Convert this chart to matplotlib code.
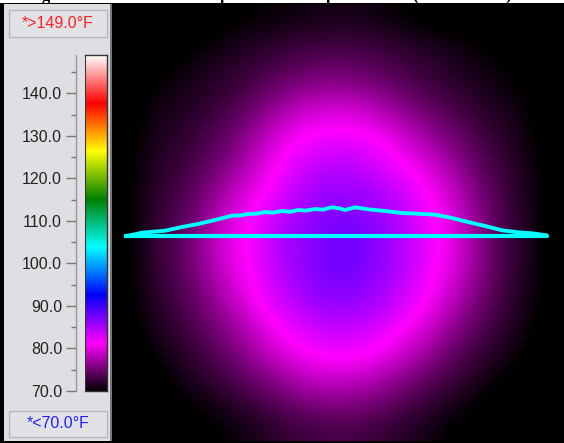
import matplotlib
matplotlib.use("Agg")
import matplotlib.pyplot as plt
import numpy as np
from matplotlib.colors import LinearSegmentedColormap
from matplotlib.patches import Rectangle
from matplotlib.ticker import MultipleLocator

plt.rcParams['font.family'] = ['Liberation Sans', 'DejaVu Sans']

W, H = 564, 443

# scale of the thermogram
t_min = 70.0
t_max = 149.0
scale_ticks = [70, 80, 90, 100, 110, 120, 130, 140]
scale_colors = ['#000000', '#ff00ff', '#0000ff', '#00ffff', '#008000', '#ffff00', '#ff0000', '#ffffff']
high_label = '*>149.0°F'
low_label = '*<70.0°F'

# temperatures, coarse grid, row by row from the top
temps = np.array([
    [69, 69, 69, 69, 69.5, 70, 70.4, 70.7, 71, 71, 70.7, 70.2, 69.5, 69, 69, 69, 69, 69],
    [69, 69, 69, 70, 70.8, 71.3, 71.8, 72.2, 72.5, 72.5, 72.2, 71.7, 71.2, 70.7, 70.2, 69, 69, 69],
    [69, 69, 70.3, 70.9, 71.6, 72.3, 73.2, 74, 74.4, 74.4, 73.8, 73, 72.2, 71.5, 70.9, 70.3, 69, 69],
    [69, 70.2, 70.9, 71.5, 72.3, 73.4, 75, 76.2, 76.8, 76.6, 75.6, 74.5, 73.2, 72.3, 71.5, 70.8, 70, 69],
    [69, 70.8, 71.3, 72.2, 73.3, 75, 77.2, 79.2, 80, 80, 78.8, 76.8, 75.2, 73.6, 72.4, 71.4, 70.6, 69],
    [69.5, 71.1, 71.8, 73, 74.4, 76.8, 79.7, 81.3, 82, 82, 81.4, 79.7, 77.2, 75.3, 73.4, 71.9, 70.9, 69],
    [69.5, 71.4, 72.3, 73.6, 75.6, 78.3, 81, 83, 84, 84, 83, 81.3, 79.7, 77, 74.4, 72.5, 71.1, 69.3],
    [69.5, 71.6, 72.8, 74.6, 77.2, 79.8, 81.8, 84.3, 85.5, 85.5, 84.8, 83, 81.4, 78.7, 75.4, 73, 71.3, 69.5],
    [69.5, 71.8, 73.3, 75.6, 78.8, 81.1, 83.5, 85.5, 86.6, 86.8, 86, 84.3, 82, 80, 76.4, 73.3, 71.4, 69.6],
    [69.5, 71.9, 73.7, 76.3, 80, 81.6, 84.5, 86, 87.3, 87.7, 86.5, 84.8, 82.3, 80.4, 76.7, 73.4, 71.4, 69.6],
    [69.5, 71.9, 73.7, 76.3, 79.8, 81.6, 84.5, 86, 87.5, 88, 86.5, 84.8, 82.3, 80.4, 76.7, 73.4, 71.4, 69.6],
    [69.5, 71.7, 73.3, 75.7, 78.8, 81.3, 83.8, 85.8, 87, 87, 86, 84.3, 81.9, 79.7, 76.2, 73.2, 71.3, 69.5],
    [69.5, 71.3, 72.8, 74.8, 77.3, 80.2, 82.5, 84.5, 85.8, 85.8, 85, 83, 81.2, 78, 75.2, 72.7, 71, 69.3],
    [69.3, 70.8, 72.2, 73.7, 75.9, 78.3, 81, 82.5, 83.5, 83.5, 82.7, 81.2, 79.2, 76.3, 73.9, 72, 70.7, 69],
    [69, 70, 71.4, 72.7, 74.4, 76.6, 79, 80.8, 81.7, 81.7, 81, 79.2, 76.8, 74.3, 72.6, 71.2, 70, 69],
    [69, 69, 70.8, 71.6, 73, 74.5, 76.2, 78, 78.8, 78.6, 77.7, 76, 74.2, 72.8, 71.3, 70.3, 69, 69],
    [69, 69, 69.5, 70.6, 71.4, 72.5, 73.8, 75, 75.8, 75.7, 75, 73.8, 72.4, 71.2, 70.3, 69, 69, 69],
    [69, 69, 69, 69.5, 70.3, 71, 72, 72.7, 73.2, 73.2, 72.7, 71.8, 71, 70, 69, 69, 69, 69],
])

# line profile across the image (image pixels)
line_x = [126, 547]
line_y = [236, 236]
profile_x = [126, 134, 142, 165, 182, 198, 215, 232, 240, 248, 257, 265, 273, 282, 290, 298,
             306, 315, 323, 332, 340, 345, 355, 368, 385, 402, 418, 435, 452, 468, 485, 502,
             518, 532, 546]
profile_y = [236, 234.5, 232.7, 230.7, 227, 224, 220, 215.7, 215.5, 214, 213.6, 212, 212.6, 211, 211.8, 210,
             210.6, 209, 209.6, 207.3, 208.5, 210, 207.3, 209.3, 211, 213, 213.7, 214.7, 218, 222, 226, 230.3,
             232.3, 233.3, 235.3]

cmap = LinearSegmentedColormap.from_list('thermal', scale_colors, N=512)

fig = plt.figure(figsize=(W / 100, H / 100), dpi=100, facecolor='white')


def box(x0, y0, x1, y1):
    # axes position from pixel corners
    return [x0 / W, 1 - y1 / H, (x1 - x0) / W, (y1 - y0) / H]


# panel and frame, in pixels
bg = fig.add_axes([0, 0, 1, 1])
bg.set_xlim(0, W)
bg.set_ylim(H, 0)
bg.axis('off')
bg.add_patch(Rectangle((0, 3), W, H - 3, fc='black', ec='none'))
bg.add_patch(Rectangle((4, 4), 108, 437, fc='#dfdfe3', ec='none'))
bg.add_patch(Rectangle((110, 4), 2, 437, fc='#77777b', ec='none'))
for y0, y1, txt, col in [(9, 36, high_label, '#ff2020'), (410, 436, low_label, '#2020ff')]:
    bg.add_patch(Rectangle((8.5, y0 + 0.5), 98, y1 - y0, fc='#e2e2e6', ec='#b8b8bc', lw=1))
    bg.text(58, (y0 + y1) / 2 + 1, txt, color=col, fontsize=11.5, ha='center', va='center')
for x, ch in [(46, 'g'), (224, 'p'), (508, ')'), (415, '('), (330, 'p')]:
    bg.text(x, 0, ch, fontsize=12, family='Liberation Serif', weight='bold', ha='center',
            va='baseline', clip_on=True)

# thermogram
ax = fig.add_axes(box(113, 4, 564, 441))
ax.imshow(temps, cmap=cmap, vmin=t_min, vmax=t_max, interpolation='bicubic',
          extent=(113, 564, 441, 4), aspect='auto')
ax.plot(line_x, line_y, color='#00ffff', lw=3, solid_capstyle='round')
ax.plot(profile_x, profile_y, color='#00ffff', lw=2.8, solid_joinstyle='round')
ax.set_xlim(113, 564)
ax.set_ylim(441, 4)
ax.axis('off')

# colour scale
cax = fig.add_axes(box(85, 55, 107, 391))
grad = np.linspace(t_min, t_max, 512).reshape(-1, 1)
cax.imshow(grad, cmap=cmap, vmin=t_min, vmax=t_max, origin='lower', aspect='auto',
           extent=(0, 1, t_min, t_max))
cax.set_xticks([])
cax.set_yticks(scale_ticks)
cax.set_yticklabels(['%.1f' % t for t in scale_ticks])
cax.yaxis.set_minor_locator(MultipleLocator(5))
cax.tick_params(axis='y', which='major', length=7, width=1, color='#777777', labelsize=11.5,
                labelcolor='#222222', pad=3)
cax.tick_params(axis='y', which='minor', length=3.5, width=1, color='#777777')
for side in ['top', 'right', 'bottom']:
    cax.spines[side].set_color('#333333')
    cax.spines[side].set_linewidth(1)
cax.spines['left'].set_position(('outward', 6.5))
cax.spines['left'].set_color('#999999')
cax.spines['left'].set_linewidth(1)
# left edge of the bar, the spine was moved away
cax.axvline(0, color='#333333', lw=1.5)

fig.savefig('out.png', dpi=100)
